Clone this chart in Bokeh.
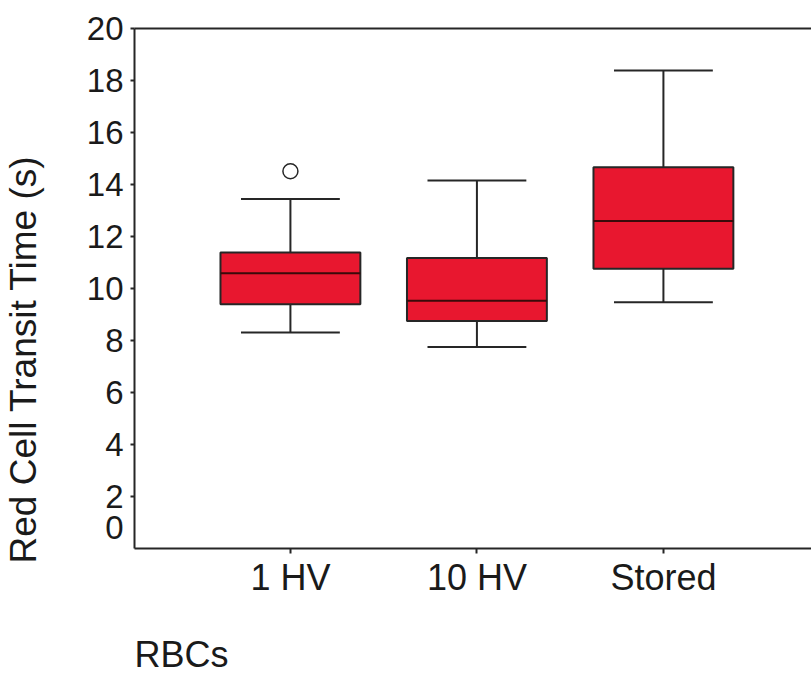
import numpy as np
from bokeh.plotting import figure
from bokeh.models import (FixedTicker, LinearAxis, Title, Range1d, ColumnDataSource,
                          PrintfTickFormatter)
from bokeh.embed import file_html
from bokeh.resources import INLINE

# ---- data ----
categories = ["1 HV", "10 HV", "Stored"]
q1 = [9.39, 8.75, 10.76]
median = [10.59, 9.53, 12.60]
q3 = [11.38, 11.17, 14.66]
whisker_low = [8.31, 7.75, 9.47]
whisker_high = [13.44, 14.15, 18.38]
outlier_category = ["1 HV"]
outlier_value = [14.51]
y_ticks = [2, 4, 6, 8, 10, 12, 14, 16, 18, 20]
y_label = "Red Cell Transit Time (s)"
x_label = "RBCs"

# ---- style ----
FONT = "Liberation Sans"
RED = "#E8172F"
INK = "#262626"
TXT = "#1a1a1a"
BOX_W = 0.75
CAP_W = 0.53
ZERO_LABEL_Y = 0.8   # the reference prints its "0" label a little above the corner

pos = np.arange(1, len(categories) + 1, dtype=float)
q1a, meda, q3a = np.array(q1), np.array(median), np.array(q3)
wl, wh = np.array(whisker_low), np.array(whisker_high)

p = figure(width=811, height=680, x_range=Range1d(0.164, 3.794), y_range=Range1d(0, 20),
           output_backend="svg", toolbar_location=None,
           min_border_left=134, min_border_right=0, min_border_top=28, min_border_bottom=132)
p.outline_line_color = None
p.xgrid.visible = False
p.ygrid.visible = False
p.background_fill_color = "white"
p.border_fill_color = "white"

src = ColumnDataSource(dict(x=pos, q1=q1a, q3=q3a, med=meda, wl=wl, wh=wh,
                            l=pos - BOX_W / 2, r=pos + BOX_W / 2,
                            cl=pos - CAP_W / 2, cr=pos + CAP_W / 2))

# whiskers
p.segment(x0="x", y0="q3", x1="x", y1="wh", source=src, line_color=INK, line_width=2)
p.segment(x0="x", y0="wl", x1="x", y1="q1", source=src, line_color=INK, line_width=2)
p.segment(x0="cl", y0="wh", x1="cr", y1="wh", source=src, line_color=INK, line_width=2)
p.segment(x0="cl", y0="wl", x1="cr", y1="wl", source=src, line_color=INK, line_width=2)
# boxes
p.vbar(x="x", width=BOX_W, bottom="q1", top="q3", source=src,
       fill_color=RED, line_color=INK, line_width=2)
# medians
p.segment(x0="l", y0="med", x1="r", y1="med", source=src, line_color="#3a0a0a", line_width=2)
# outliers
ox = [pos[categories.index(c)] for c in outlier_category]
p.scatter(ox, outlier_value, marker="circle", size=15, fill_color="white",
          line_color=INK, line_width=1.5)

# x axis
xa = p.xaxis[0]
xa.ticker = FixedTicker(ticks=list(pos))
xa.major_label_overrides = {float(v): c for v, c in zip(pos, categories)}
xa.minor_tick_line_color = None
xa.major_tick_out = 5
xa.major_tick_in = 0
xa.axis_line_width = 2
xa.axis_line_color = INK
xa.major_tick_line_color = INK
xa.major_tick_line_width = 2
xa.major_label_text_font = FONT
xa.major_label_text_font_size = "36px"
xa.major_label_text_color = TXT
xa.major_label_standoff = 3
# blank axis label used only as spacing above the left-aligned "RBCs" title
xa.axis_label = " "
xa.axis_label_text_font_size = "10px"
xa.axis_label_standoff = 11

# y axis: labels on major ticks (incl. the raised "0"), tick marks drawn as minor ticks
ya = p.yaxis[0]
ya.ticker = FixedTicker(ticks=[ZERO_LABEL_Y] + y_ticks, minor_ticks=y_ticks)
ya.formatter = PrintfTickFormatter(format="%d")
ya.major_label_overrides = {ZERO_LABEL_Y: "0"}
ya.major_tick_line_color = None
ya.major_tick_out = 4
ya.major_tick_in = 0
ya.minor_tick_line_color = INK
ya.minor_tick_line_width = 2
ya.minor_tick_out = 4
ya.minor_tick_in = 0
ya.axis_line_width = 2
ya.axis_line_color = INK
ya.major_label_text_font = FONT
ya.major_label_text_font_size = "33px"
ya.major_label_text_color = TXT
ya.major_label_standoff = 7
# blank axis label used only as spacing before the y title
ya.axis_label = " "
ya.axis_label_text_font_size = "10px"
ya.axis_label_standoff = 26

# top frame line
top = LinearAxis(ticker=FixedTicker(ticks=[]), axis_line_width=2, axis_line_color=INK,
                 major_tick_out=0, major_tick_in=0, major_label_standoff=0,
                 minor_tick_line_color=None, major_label_text_font_size="0px")
p.add_layout(top, "above")

# y axis title (starts a little below the bottom of the frame, as in the reference)
p.add_layout(Title(text=y_label, align="left", offset=-15, text_font=FONT,
                   text_font_size="37px", text_font_style="normal", text_color=TXT,
                   standoff=0), "left")

# x axis title (left aligned)
p.add_layout(Title(text=x_label, align="left", text_font=FONT, text_font_size="36px",
                   text_font_style="normal", text_color=TXT, standoff=12), "below")

open("out.html", "w").write(file_html(p, INLINE))
